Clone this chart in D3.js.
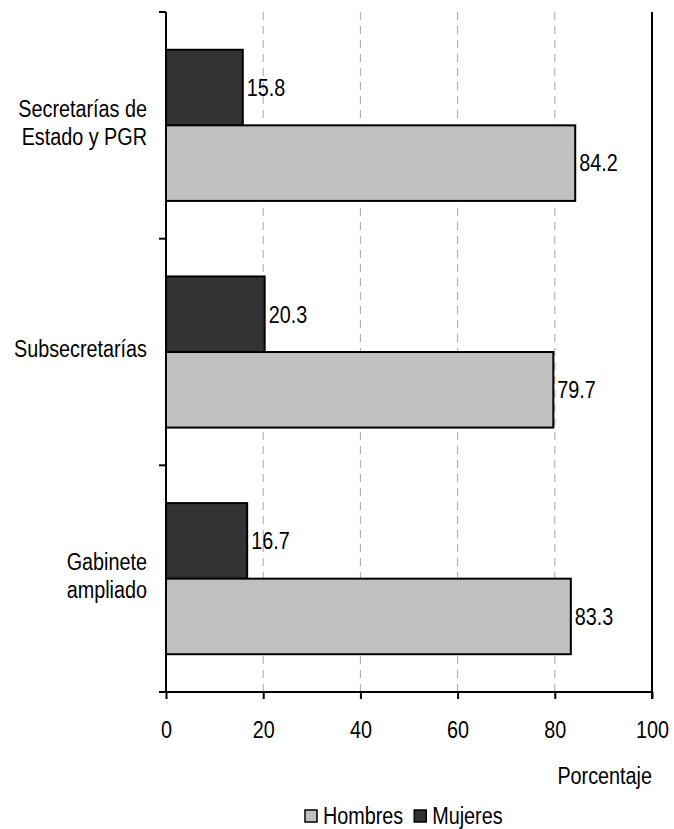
<!DOCTYPE html>
<html><head><meta charset="utf-8">
<script src="https://cdn.jsdelivr.net/npm/d3@7"></script>
<style>body{margin:0;background:#fff}svg{display:block}text{fill:#000;font-family:"Liberation Sans",Arial,sans-serif}</style>
</head><body><svg id="c" width="674" height="829"></svg>
<script>
const categories = [["Secretarías de","Estado y PGR"],["Subsecretarías"],["Gabinete","ampliado"]];
const catKeys = ["Secretarías de Estado y PGR","Subsecretarías","Gabinete ampliado"];
const mujeres = [15.8, 20.3, 16.7];
const hombres = [84.2, 79.7, 83.3];
const xTicks = [0,20,40,60,80,100];
const seriesNames = ["Hombres","Mujeres"];
const axisTitle = "Porcentaje";
const colors = {Hombres:"#c0c0c0", Mujeres:"#333333"};

const svg = d3.select("#c");
const fs = 23;
const SQ = 0.86; // horizontal condensing of the text
function condense(sel){
  sel.each(function(){
    const n = this; const len = n.getComputedTextLength();
    n.__w = len*SQ;
    d3.select(n).attr("textLength", len*SQ).attr("lengthAdjust","spacingAndGlyphs");
  });
  return sel;
}

const L=166, R=652, T=12, B=692;
const x = d3.scaleLinear().domain([0,100]).range([L,R]);
const y = d3.scaleBand().domain(catKeys).range([T,B]).paddingInner(0.3333).paddingOuter(0.16667);
const sub = d3.scaleBand().domain(["Mujeres","Hombres"]).range([0,y.bandwidth()]);

// gridlines
svg.append("g").selectAll("line").data(xTicks.filter(t=>t>0&&t<100)).join("line")
  .attr("x1",d=>x(d)).attr("x2",d=>x(d)).attr("y1",T).attr("y2",B)
  .attr("stroke","#a6a6a6").attr("stroke-width",1).attr("stroke-dasharray","8,6");
// right border
svg.append("line").attr("x1",R).attr("x2",R).attr("y1",T).attr("y2",B+7).attr("stroke","#000").attr("stroke-width",2);

const data = catKeys.map((k,i)=>({k, Mujeres:mujeres[i], Hombres:hombres[i]}));
const g = svg.append("g");
["Mujeres","Hombres"].forEach(s=>{
  g.selectAll("rect."+s).data(data).join("rect").attr("class",s)
    .attr("x",x(0)).attr("y",d=>y(d.k)+sub(s)).attr("width",d=>x(d[s])-x(0)).attr("height",sub.bandwidth())
    .attr("fill",colors[s]).attr("stroke","#000").attr("stroke-width",2);
  g.selectAll("text."+s).data(data).join("text").attr("class",s)
    .attr("x",d=>x(d[s])+4).attr("y",d=>y(d.k)+sub(s)+sub.bandwidth()/2).attr("dy","0.36em")
    .attr("font-size",fs).text(d=>d[s].toFixed(1)).call(condense);
});

// y axis
const yAxisTicks = [T, ...catKeys.slice(0,2).map(k=>y(k)+y.bandwidth()+y.step()*y.paddingInner()/2), B];
svg.append("line").attr("x1",L).attr("x2",L).attr("y1",T).attr("y2",B).attr("stroke","#000").attr("stroke-width",2);
svg.append("g").selectAll("line").data(yAxisTicks).join("line")
  .attr("x1",L-7).attr("x2",L).attr("y1",d=>d).attr("y2",d=>d).attr("stroke","#000").attr("stroke-width",2);
categories.forEach((lines,i)=>{
  const cy = y(catKeys[i])+y.bandwidth()/2 - 3;
  lines.forEach((ln,j)=>{
    svg.append("text").attr("text-anchor","end").attr("font-size",fs)
      .attr("x",147).attr("y",cy+(j-(lines.length-1)/2)*28).attr("dy","0.36em").text(ln).call(condense);
  });
});

// x axis
const xa = svg.append("g").attr("transform",`translate(0,${B})`)
  .call(d3.axisBottom(x).tickValues(xTicks).tickSize(7).tickPadding(30).tickFormat(d3.format("d")));
xa.select(".domain").remove();
xa.selectAll("line").attr("stroke","#000").attr("stroke-width",2);
xa.selectAll("text").attr("font-size",fs).attr("font-family",null).attr("dy","0.36em").attr("y",38).attr("fill","#000").call(condense);
svg.append("line").attr("x1",L-7).attr("x2",R).attr("y1",B).attr("y2",B).attr("stroke","#000").attr("stroke-width",2);

svg.append("text").attr("x",R).attr("y",776).attr("dy","0.36em").attr("text-anchor","end").attr("font-size",fs).text(axisTitle).call(condense);

// legend
const leg = svg.append("g");
let lx = 305;
seriesNames.forEach(s=>{
  leg.append("rect").attr("x",lx).attr("y",810).attr("width",12).attr("height",12).attr("fill",colors[s]).attr("stroke","#000").attr("stroke-width",1.5);
  const t = leg.append("text").attr("x",lx+18).attr("y",816).attr("dy","0.36em").attr("font-size",fs).text(s).call(condense);
  lx += 18 + t.node().__w + 11;
});
</script></body></html>
